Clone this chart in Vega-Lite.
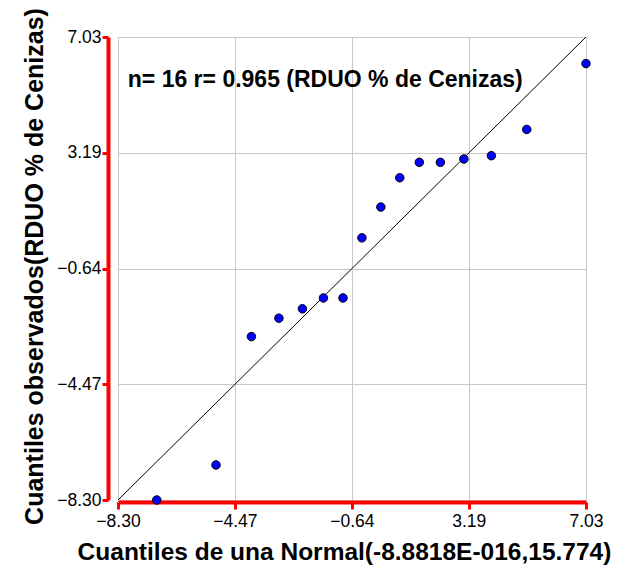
{
  "$schema": "https://vega.github.io/schema/vega-lite/v6.json",
  "width": 468,
  "height": 463,
  "autosize": {"type": "none"},
  "padding": {"left": 118, "top": 37, "right": 46, "bottom": 77},
  "background": "white",
  "config": {"view": {"stroke": null}, "font": "Liberation Sans"},
  "datasets": {
    "pts": [
      {"x": -7.03, "y": -8.30},
      {"x": -5.09, "y": -7.14},
      {"x": -3.93, "y": -2.89},
      {"x": -3.03, "y": -2.28},
      {"x": -2.26, "y": -1.97},
      {"x": -1.57, "y": -1.61},
      {"x": -0.93, "y": -1.61},
      {"x": -0.31, "y": 0.38},
      {"x": 0.31, "y": 1.40},
      {"x": 0.93, "y": 2.37},
      {"x": 1.57, "y": 2.88},
      {"x": 2.26, "y": 2.88},
      {"x": 3.03, "y": 2.99},
      {"x": 3.93, "y": 3.10},
      {"x": 5.09, "y": 3.97},
      {"x": 7.03, "y": 6.15}
    ],
    "ref": [
      {"x": -8.30, "y": -8.30},
      {"x": 7.03, "y": 7.03}
    ],
    "lab": [
      {"label": "n= 16 r= 0.965 (RDUO % de Cenizas)"}
    ]
  },
  "layer": [
    {
      "data": {"name": "ref"},
      "mark": {"type": "line", "color": "black", "strokeWidth": 1},
      "encoding": {
        "x": {
          "field": "x",
          "type": "quantitative",
          "scale": {"domain": [-8.30, 7.03], "nice": false, "zero": false},
          "axis": {
            "values": [-8.30, -4.47, -0.64, 3.19, 7.03],
            "format": ".2f",
            "title": "Cuantiles de una Normal(-8.8818E-016,15.774)",
            "offset": 2,
            "domainColor": "#ff0000",
            "domainWidth": 4,
            "ticks": true,
            "tickColor": "#ff0000",
            "tickWidth": 3,
            "tickSize": 7,
            "labelFont": "Liberation Sans",
            "labelFontSize": 17.5,
            "labelColor": "black",
            "labelPadding": 3,
            "labelFlush": false,
            "labelOverlap": false,
            "grid": true,
            "gridColor": "#c8c8c8",
            "gridWidth": 1,
            "titleFont": "Liberation Sans",
            "titleFontSize": 24.5,
            "titleFontWeight": "bold",
            "titleColor": "black",
            "titleX": 226,
            "titleY": 57,
            "titleBaseline": "alphabetic",
            "titleAlign": "center"
          }
        },
        "y": {
          "field": "y",
          "type": "quantitative",
          "scale": {"domain": [-8.30, 7.03], "nice": false, "zero": false},
          "axis": {
            "values": [-8.30, -4.47, -0.64, 3.19, 7.03],
            "format": ".2f",
            "title": "Cuantiles observados(RDUO % de Cenizas)",
            "offset": 10,
            "domainColor": "#ff0000",
            "domainWidth": 4,
            "ticks": true,
            "tickColor": "#ff0000",
            "tickWidth": 3,
            "tickSize": 6,
            "labelFont": "Liberation Sans",
            "labelFontSize": 17.5,
            "labelColor": "black",
            "labelPadding": 1,
            "labelFlush": false,
            "labelOverlap": false,
            "grid": true,
            "gridColor": "#c8c8c8",
            "gridWidth": 1,
            "titleFont": "Liberation Sans",
            "titleFontSize": 25,
            "titleFontWeight": "bold",
            "titleColor": "black",
            "titleAngle": 270,
            "titleX": -66,
            "titleY": 229,
            "titleBaseline": "alphabetic",
            "titleAlign": "center"
          }
        }
      }
    },
    {
      "data": {"name": "pts"},
      "mark": {"type": "circle", "size": 72, "fill": "#0000ff", "stroke": "black", "strokeWidth": 1, "opacity": 1},
      "encoding": {
        "x": {"field": "x", "type": "quantitative"},
        "y": {"field": "y", "type": "quantitative"}
      }
    },
    {
      "data": {"name": "lab"},
      "mark": {"type": "text", "font": "Liberation Sans", "fontSize": 23, "fontWeight": "bold", "fill": "black", "align": "left", "baseline": "alphabetic"},
      "encoding": {
        "x": {"datum": -7.98},
        "y": {"datum": 5.39},
        "text": {"field": "label"}
      }
    }
  ]
}
